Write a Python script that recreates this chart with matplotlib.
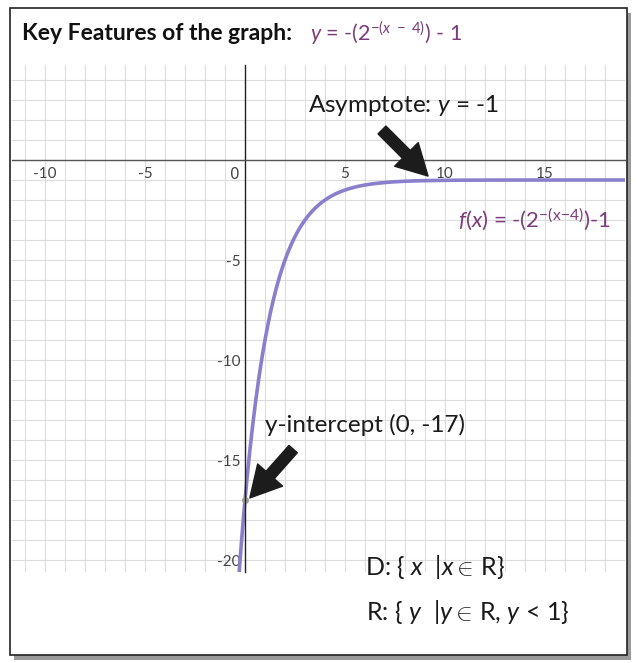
import numpy as np
import matplotlib
matplotlib.use("Agg")
import matplotlib.pyplot as plt
from matplotlib.patches import Rectangle

plt.rcParams['font.family'] = ['Lato', 'DejaVu Sans']
plt.rcParams['mathtext.fontset'] = 'custom'
plt.rcParams['mathtext.rm'] = 'Lato'
plt.rcParams['mathtext.it'] = 'Lato:italic'

# function y = -(2^-(x-4)) - 1
x_vals = np.linspace(-0.35, 19.5, 400)
y_vals = -(2.0 ** (-(x_vals - 4))) - 1

x_ticks = [-10, -5, 0, 5, 10, 15]
y_ticks = [-5, -10, -15, -20]
intercept = (0, -17)
asymptote = -1

curve_col = '#8a7fcc'
purple = '#7a3d7a'
tick_font = dict(family='Liberation Sans Narrow', fontsize=11, color='#444444')

fig = plt.figure(figsize=(6.37, 6.63), dpi=100)

# outer frame with a bit of shadow
fig.add_artist(Rectangle((14 / 637, 1 - 660 / 663), 617 / 637, 647 / 663,
                         transform=fig.transFigure, facecolor='#9a9a9a',
                         edgecolor='none', zorder=-3))
fig.add_artist(Rectangle((10 / 637, 1 - 655 / 663), 617 / 637, 647 / 663,
                         transform=fig.transFigure, facecolor='white',
                         edgecolor='#222222', lw=1.2, zorder=-2))

ax = fig.add_axes([12 / 637, 1 - 572 / 663, 613 / 637, 507 / 663])
ax.set_facecolor('none')
ax.set_xlim(-11.65, 19.0)
ax.set_ylim(-20.6, 4.75)

ax.set_xticks(np.arange(-11, 20), minor=True)
ax.set_yticks(np.arange(-20, 5), minor=True)
ax.set_xticks(x_ticks)
ax.set_yticks(y_ticks)
# the "0" is drawn separately, a little left of the y axis
ax.set_xticklabels(['' if t == 0 else str(t) for t in x_ticks], family=tick_font['family'])
ax.set_yticklabels([str(t) for t in y_ticks], family=tick_font['family'])
ax.grid(True, which='both', color='#dcdcdc', lw=0.8)
ax.set_axisbelow(True)
ax.tick_params(which='both', length=0, labelsize=11, labelcolor='#444444')
ax.tick_params(axis='x', pad=5)
ax.tick_params(axis='y', pad=3)
ax.annotate('0', xy=(0, 0), xytext=(-7, -5), textcoords='offset points',
            ha='center', va='top', **tick_font)

ax.spines['left'].set_position(('data', 0))
ax.spines['bottom'].set_position(('data', 0))
ax.spines['top'].set_visible(False)
ax.spines['right'].set_visible(False)
ax.spines['left'].set_color('#222222')
ax.spines['bottom'].set_color('#555555')
ax.spines['left'].set_linewidth(1.0)
ax.spines['bottom'].set_linewidth(1.0)

ax.plot(x_vals, y_vals, color=curve_col, lw=2.6, solid_capstyle='round')
ax.plot(*intercept, 'o', color='#999999', ms=4)

arrow = dict(arrowstyle='simple,head_width=1.2,head_length=1.1,tail_width=0.4',
             color='#1c1c1c', mutation_scale=20)
ax.annotate('', xy=(9.25, asymptote + 0.1), xytext=(6.75, 1.6), arrowprops=arrow)
ax.annotate('', xy=(0.15, intercept[1]), xytext=(2.5, -14.35), arrowprops=arrow)

ax.text(3.15, 2.75, r'Asymptote: $\mathit{y}$ = -1', fontsize=17.5,
        ha='left', va='center', color='#1a1a1a')
ax.text(1.0, -13.25, 'y-intercept (0, -17)', fontsize=17.5,
        ha='left', va='center', color='#1a1a1a')
ax.text(10.65, -3.0, r'$\mathit{f(x)}$ = -(2$^{\mathrm{-(x\!-\!4)}}$)-1', fontsize=16,
        ha='left', va='center', color=purple)
ax.text(6.0, -20.35, r'D: { $\mathit{x}$  |$\mathit{x}\in\,$R}', fontsize=18,
        ha='left', va='center', color='#1a1a1a', clip_on=False)
ax.text(6.05, -22.6, r'R: { $\mathit{y}$  |$\mathit{y}\in\,$R, $\mathit{y}$ < 1}', fontsize=18,
        ha='left', va='center', color='#1a1a1a', clip_on=False)

fig.text(22 / 637, 1 - 33 / 663, 'Key Features of the graph:', fontsize=16.5,
         fontweight='bold', ha='left', va='center', color='#111111')
fig.text(310 / 637, 1 - 33 / 663, r'$\mathit{y}$ = -(2$^{\mathrm{-(}\mathit{x}\mathrm{\ -\ 4)}}$) - 1',
         fontsize=15.5, ha='left', va='center', color=purple)

fig.savefig('out.png', dpi=100)
